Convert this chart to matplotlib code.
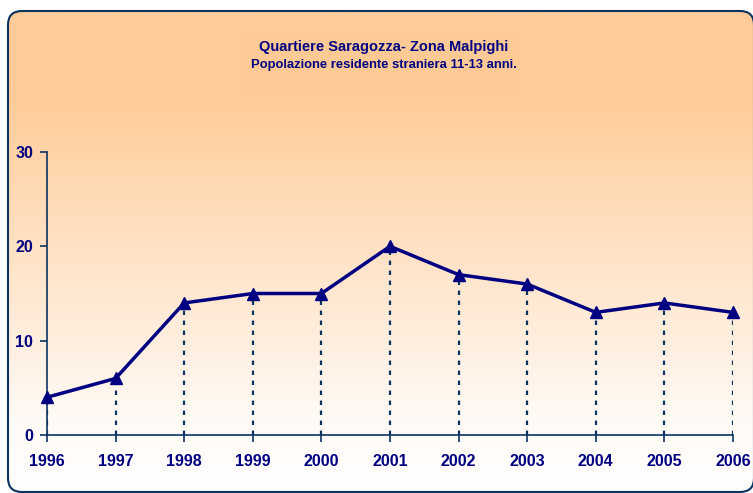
import numpy as np
import matplotlib.pyplot as plt
from matplotlib.patches import FancyBboxPatch, Rectangle
from matplotlib.colors import LinearSegmentedColormap

plt.rcParams['font.family'] = ['Liberation Sans', 'DejaVu Sans']

# dati
anni = [1996, 1997, 1998, 1999, 2000, 2001, 2002, 2003, 2004, 2005, 2006]
valori = [4, 6, 14, 15, 15, 20, 17, 16, 13, 14, 13]
yticks = [0, 10, 20, 30]

blu = '#000080'
bordo = '#0B3360'

fig = plt.figure(figsize=(7.53, 4.93), dpi=100)

# sfondo sfumato con bordo arrotondato
bg = fig.add_axes([0, 0, 1, 1])
bg.set_xlim(0, 753)
bg.set_ylim(493, 0)
bg.axis('off')
cmap = LinearSegmentedColormap.from_list(
    'sf', [(0, '#FFCC99'), (0.18, '#FFCC99'), (0.85, '#FFFAF6'), (1, '#FFFFFF')])
grad = np.linspace(0, 1, 256).reshape(-1, 1)
img = bg.imshow(grad, extent=[8, 754, 493, 11], cmap=cmap, aspect='auto', zorder=0)
box = FancyBboxPatch((8, 11), 746, 481, boxstyle='round,pad=0,rounding_size=14',
                     facecolor='none', edgecolor=bordo, linewidth=1.5, zorder=2)
bg.add_patch(box)
img.set_clip_path(box)
bg.add_patch(Rectangle((246, 33), 275, 61, facecolor='#FDC893', edgecolor='none',
                       alpha=0.5, zorder=1))
bg.text(384, 47, 'Quartiere Saragozza- Zona Malpighi', ha='center', va='center',
        fontsize=10.5, fontweight='bold', color=blu)
bg.text(384, 65, 'Popolazione residente straniera 11-13 anni.', ha='center', va='center',
        fontsize=9.4, fontweight='bold', color=blu)

# grafico
ax = fig.add_axes([0.0624, 0.1176, 0.9110, 0.5741])
ax.patch.set_alpha(0)
ax.plot(anni, valori, color=blu, lw=2.5, marker='^', markersize=9, zorder=4, clip_on=False)
ax.vlines(anni, 0, valori, colors=bordo, linestyles=(0, (2, 2.5)), lw=1.6, zorder=3)

ax.set_xlim(anni[0], anni[-1])
ax.set_ylim(0, 30)
ax.set_xticks(anni)
ax.set_yticks(yticks)
for s in ['top', 'right']:
    ax.spines[s].set_visible(False)
for s in ['left', 'bottom']:
    ax.spines[s].set_color(bordo)
    ax.spines[s].set_linewidth(1.2)
ax.tick_params(direction='out', length=5, width=1.2, color=bordo,
               labelsize=11.5, labelcolor=blu)
ax.tick_params(axis='x', pad=9)
ax.tick_params(axis='y', pad=5)
for lab in ax.get_xticklabels() + ax.get_yticklabels():
    lab.set_fontweight('bold')

fig.savefig('out.png', dpi=100)
